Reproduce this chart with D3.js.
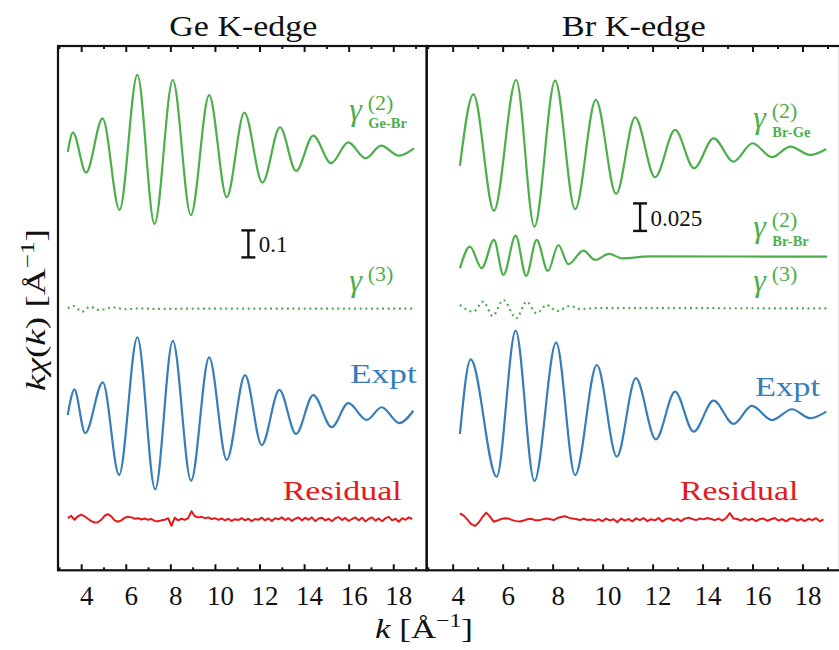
<!DOCTYPE html>
<html>
<head>
<meta charset="utf-8">
<script src="https://cdn.jsdelivr.net/npm/d3@7"></script>
<style>
  body { margin: 0; background: #fff; }
  svg { display: block; }
</style>
</head>
<body>
<svg id="chart" width="839" height="650"></svg>
<script>
// ---------- data: k (Å^-1) against kχ(k) ----------
const kTickLabels = ["4", "6", "8", "10", "12", "14", "16", "18"];
const kMajorTicks = [4, 6, 8, 10, 12, 14, 16, 18];
const kMinorTicks = [3, 5, 7, 9, 11, 13, 15, 17, 19];

// Ge K-edge
const geGammaGeBr = [
  [3.40, -0.009], [3.63, 0.062], [4.22, -0.086], [4.96, 0.115], [5.72, -0.224],
  [6.52, 0.276], [7.29, -0.276], [8.11, 0.257], [8.92, -0.243], [9.74, 0.201],
  [10.53, -0.177], [11.32, 0.136], [12.13, -0.123], [12.92, 0.082], [13.64, -0.080],
  [14.41, 0.051], [15.21, -0.051], [15.98, 0.026], [16.76, -0.033], [17.45, 0.014],
  [18.25, -0.023], [18.93, 0.004]
];
const geGamma3 = [
  [3.40, 0.0015], [3.66, 0.010], [4.03, -0.011], [4.40, 0.007], [4.82, -0.005],
  [5.43, 0.005], [5.97, -0.002], [6.60, 0.001], [7.50, -0.001], [9.00, 0.0005],
  [18.93, 0]
];
const geExpt = [
  [3.40, -0.004], [3.51, 0.046], [3.69, 0.091], [4.18, -0.071], [4.97, 0.117],
  [5.70, -0.226], [6.52, 0.284], [7.32, -0.279], [8.11, 0.271], [8.93, -0.247],
  [9.74, 0.210], [10.53, -0.170], [11.35, 0.144], [12.10, -0.115], [12.89, 0.089],
  [13.64, -0.074], [14.41, 0.070], [15.24, -0.049], [15.98, 0.040], [16.81, -0.022],
  [17.48, 0.025], [18.27, -0.034], [18.90, 0.012]
];
// residual sampled every 0.15 Å^-1 from k = 3.40
const geResidualStart = 3.40;
const geResidual = [
  0.004, 0.013, -0.002, 0.011, 0.017, 0.011, 0.002, -0.007, -0.012, -0.011,
  -0.002, 0.013, 0.019, 0.011, -0.004, -0.009, -0.004, 0.006, 0.009, 0.007,
  0.002, 0.004, -0.001, 0.003, -0.002, 0.001, -0.006, -0.007, -0.004, -0.002,
  0.004, -0.024, 0.006, -0.004, 0.002, -0.002, 0.004, 0.030, 0.011, 0.007,
  0.009, 0.004, 0.007, 0.001, 0.004, -0.002, 0.003, -0.004, 0.002, -0.006,
  0.000, -0.003, 0.004, -0.004, 0.002, -0.007, 0.001, -0.002, 0.006, -0.004,
  0.003, -0.006, 0.004, 0.000, 0.007, -0.003, 0.004, -0.006, 0.002, 0.007,
  -0.004, 0.006, -0.002, 0.007, -0.007, 0.003, 0.006, -0.004, 0.002, -0.007,
  0.004, 0.008, -0.003, 0.005, -0.006, 0.001, 0.007, -0.004, 0.006, -0.008,
  0.002, 0.007, -0.005, 0.003, -0.007, 0.004, 0.009, -0.004, 0.002, -0.009,
  0.004, -0.002, 0.007, 0.001
];

// Br K-edge
const brGammaBrGe = [
  [4.29, -0.0145], [4.83, 0.0506], [5.65, -0.0552], [6.54, 0.0636], [7.27, -0.0697],
  [8.10, 0.0630], [8.90, -0.0539], [9.73, 0.0455], [10.54, -0.0400], [11.30, 0.0297],
  [12.10, -0.0248], [12.90, 0.0182], [13.66, -0.0166], [14.44, 0.0106], [15.24, -0.0106],
  [16.00, 0.0061], [16.78, -0.0066], [17.51, 0.0030], [18.31, -0.0045], [18.95, 0.0009]
];
const brGammaBrBr = [
  [4.29, -0.0105], [4.69, 0.0091], [5.16, -0.0105], [5.65, 0.0152], [6.03, -0.0166],
  [6.52, 0.0191], [6.94, -0.0175], [7.36, 0.0152], [7.81, -0.0130], [8.23, 0.0106],
  [8.63, -0.0069], [9.23, 0.0055], [9.70, -0.0030], [10.26, 0.0025], [10.78, -0.0015],
  [11.90, 0.0002], [18.98, 0]
];
const brGamma3 = [
  [4.29, 0.0031], [4.82, -0.0030], [5.23, 0.0061], [5.60, -0.0069], [6.03, 0.0076],
  [6.54, -0.0090], [6.96, 0.0061], [7.36, -0.0045], [7.76, 0.0031], [8.17, -0.0024],
  [8.70, 0.0022], [9.10, -0.0005], [9.80, 0.0002], [18.95, 0]
];
const brExpt = [
  [4.29, -0.0182], [4.72, 0.0497], [5.76, -0.0570], [6.52, 0.0757], [7.27, -0.0609],
  [8.14, 0.0648], [8.90, -0.0555], [9.77, 0.0445], [10.57, -0.0388], [11.33, 0.0325],
  [12.13, -0.0230], [12.90, 0.0203], [13.64, -0.0161], [14.44, 0.0121], [15.24, -0.0091],
  [15.97, 0.0073], [16.78, -0.0055], [17.58, 0.0043], [18.31, -0.0039], [18.95, 0.0021]
];
const brResidualStart = 4.29;
const brResidual = [
  0.0057, 0.0036, 0.0000, -0.0041, -0.0058, -0.0027, 0.0023, 0.0063, 0.0027, -0.0019,
  -0.0009, 0.0005, 0.0012, 0.0009, -0.0005, -0.0014, -0.0018, -0.0009, 0.0003, 0.0007,
  -0.0005, -0.0007, 0.0002, 0.0009, 0.0005, -0.0005, 0.0014, 0.0023, 0.0030, 0.0018,
  0.0009, 0.0005, -0.0005, 0.0007, -0.0003, 0.0000, -0.0011, 0.0005, -0.0014, 0.0009,
  -0.0007, 0.0003, -0.0023, 0.0009, -0.0009, 0.0005, -0.0016, 0.0011, -0.0005, 0.0014,
  -0.0014, 0.0003, -0.0007, 0.0014, -0.0018, 0.0005, 0.0011, -0.0009, 0.0007, -0.0014,
  0.0009, 0.0018, 0.0005, -0.0005, 0.0009, 0.0002, 0.0014, 0.0005, -0.0005, 0.0009,
  -0.0009, 0.0014, 0.0059, 0.0009, 0.0005, -0.0009, 0.0011, -0.0005, 0.0007, -0.0014,
  0.0005, 0.0009, -0.0011, 0.0003, 0.0014, -0.0009, 0.0005, -0.0016, 0.0007, 0.0011,
  -0.0009, 0.0005, -0.0014, 0.0007, -0.0005, 0.0012, -0.0016, 0.0003
];
const residualStep = 0.15;

// ---------- layout ----------
const GREEN = "#4daf4a", BLUE = "#377eb8", RED = "#e41a1c";
const SERIF = "'Liberation Serif', 'DejaVu Serif', serif";
const plotTop = 46, plotBottom = 570.3;
const kDomain = [2.96, 19.5];

const sampled = (start, vals) => vals.map((v, i) => [start + i * residualStep, v]);

const panels = [
  {
    title: "Ge K-edge", titleWidth: 148,
    x0: 58, x1: 426.7,
    yDomain: [-0.579, 1.363],
    bar: { k: 11.5, from: 0.58, size: 0.1, text: "0.1" },
    series: [
      { data: geGammaGeBr, offset: 0.98, color: GREEN },
      { data: geGamma3, offset: 0.39, color: GREEN, dash: "2 3.6" },
      { data: geExpt, offset: 0, color: BLUE },
      { data: sampled(geResidualStart, geResidual), offset: -0.39, color: RED, linear: true }
    ],
    gammas: [
      { x: 349.3, y: 119.5, sup: "(2)", sub: "Ge-Br" },
      { x: 349.3, y: 291, sup: "(3)" }
    ],
    texts: [
      { text: "Expt", x: 350, y: 382.7, w: 66.7, color: BLUE },
      { text: "Residual", x: 282.7, y: 500, w: 119, color: RED }
    ]
  },
  {
    title: "Br K-edge", titleWidth: 144,
    x0: 426.7, x1: 840,
    yDomain: [-0.1421, 0.3345],
    bar: { k: 11.5, from: 0.1664, size: 0.025, text: "0.025" },
    series: [
      { data: brGammaBrGe, offset: 0.24, color: GREEN },
      { data: brGammaBrBr, offset: 0.143, color: GREEN },
      { data: brGamma3, offset: 0.096, color: GREEN, dash: "2 3.6" },
      { data: brExpt, offset: 0, color: BLUE },
      { data: sampled(brResidualStart, brResidual), offset: -0.096, color: RED, linear: true }
    ],
    gammas: [
      { x: 753.3, y: 128, sup: "(2)", sub: "Br-Ge" },
      { x: 753.3, y: 237, sup: "(2)", sub: "Br-Br" },
      { x: 753.3, y: 291, sup: "(3)" }
    ],
    texts: [
      { text: "Expt", x: 755, y: 396, w: 65, color: BLUE },
      { text: "Residual", x: 680, y: 500, w: 118.3, color: RED }
    ]
  }
];

const svg = d3.select("#chart");

panels.forEach(p => {
  const x = d3.scaleLinear().domain(kDomain).range([p.x0, p.x1]);
  const y = d3.scaleLinear().domain(p.yDomain).range([plotBottom, plotTop]);
  const g = svg.append("g");

  // curves
  p.series.forEach(s => {
    const line = d3.line()
      .x(d => x(d[0]))
      .y(d => y(d[1] + s.offset))
      .curve(s.linear ? d3.curveLinear : d3.curveMonotoneX);
    g.append("path")
      .datum(s.data)
      .attr("d", line)
      .attr("fill", "none")
      .attr("stroke", s.color)
      .attr("stroke-width", s.linear ? 2 : 2.2)
      .attr("stroke-linejoin", "round")
      .attr("stroke-dasharray", s.dash || null);
  });

  // scale bar
  const bx = x(p.bar.k), by0 = y(p.bar.from), by1 = y(p.bar.from + p.bar.size);
  const bar = g.append("g").attr("stroke", "#111").attr("stroke-width", 2.4);
  bar.append("line").attr("x1", bx).attr("x2", bx).attr("y1", by0).attr("y2", by1);
  bar.append("line").attr("x1", bx - 7).attr("x2", bx + 7).attr("y1", by0).attr("y2", by0);
  bar.append("line").attr("x1", bx - 7).attr("x2", bx + 7).attr("y1", by1).attr("y2", by1);
  g.append("text")
    .attr("x", bx + 10.5).attr("y", (by0 + by1) / 2 + 8.5)
    .attr("font-family", SERIF).attr("font-size", 23).attr("fill", "#111")
    .text(p.bar.text);

  // axes: ticks point inward on bottom and top edges
  const major = d3.axisBottom(x).tickValues(kMajorTicks).tickSizeInner(-6).tickSizeOuter(0)
    .tickFormat((d, i) => kTickLabels[i]);
  const minor = d3.axisBottom(x).tickValues(kMinorTicks).tickSizeInner(-3).tickSizeOuter(0)
    .tickFormat("");
  const ax = g.append("g").attr("transform", `translate(0,${plotBottom})`).call(major);
  g.append("g").attr("transform", `translate(0,${plotBottom})`).call(minor);
  g.append("g").attr("transform", `translate(0,${plotTop})`)
    .call(d3.axisTop(x).tickValues(kMajorTicks).tickSizeInner(-6).tickSizeOuter(0).tickFormat(""));
  g.append("g").attr("transform", `translate(0,${plotTop})`)
    .call(d3.axisTop(x).tickValues(kMinorTicks).tickSizeInner(-3).tickSizeOuter(0).tickFormat(""));
  g.selectAll(".domain").remove();
  g.selectAll(".tick line").attr("stroke", "#111").attr("stroke-width", 2);
  ax.selectAll(".tick text")
    .attr("x", 5).attr("y", 34.7).attr("dy", null)
    .attr("font-family", SERIF).attr("font-size", 27).attr("fill", "#111");

  // frame
  g.append("rect")
    .attr("x", p.x0).attr("y", plotTop)
    .attr("width", p.x1 - p.x0).attr("height", plotBottom - plotTop)
    .attr("fill", "none").attr("stroke", "#111").attr("stroke-width", 2.2);

  // title
  g.append("text")
    .attr("x", (p.x0 + Math.min(p.x1, 839)) / 2 + 1).attr("y", 36)
    .attr("text-anchor", "middle")
    .attr("font-family", SERIF).attr("font-size", 30).attr("fill", "#111")
    .attr("textLength", p.titleWidth).attr("lengthAdjust", "spacingAndGlyphs")
    .text(p.title);

  // series names
  p.texts.forEach(t => {
    g.append("text")
      .attr("x", t.x).attr("y", t.y)
      .attr("font-family", SERIF).attr("font-size", 28).attr("fill", t.color)
      .attr("textLength", t.w).attr("lengthAdjust", "spacingAndGlyphs")
      .text(t.text);
  });

  p.gammas.forEach(t => {
    const lg = g.append("g").attr("fill", GREEN).attr("font-family", SERIF);
    lg.append("text").attr("x", t.x).attr("y", t.y)
      .attr("font-size", 32).attr("font-style", "italic").text("γ");
    lg.append("text").attr("x", t.x + 18.5).attr("y", t.y - 10)
      .attr("font-size", 22).text(t.sup);
    if (t.sub) {
      lg.append("text").attr("x", t.x + 19).attr("y", t.y + 8.5)
        .attr("font-size", 14.5).attr("font-weight", "bold").text(t.sub);
    }
  });
});

// axis titles
const xt = svg.append("text")
  .attr("x", 375).attr("y", 638)
  .attr("font-family", SERIF).attr("font-size", 28).attr("fill", "#111")
  .attr("textLength", 98).attr("lengthAdjust", "spacingAndGlyphs");
xt.append("tspan").attr("font-style", "italic").text("k");
xt.append("tspan").text(" [Å");
xt.append("tspan").attr("dy", -11).attr("font-size", 19).text("−1");
xt.append("tspan").attr("dy", 11).text("]");

const yt = svg.append("text")
  .attr("transform", "translate(45,310) rotate(-90)")
  .attr("text-anchor", "middle")
  .attr("font-family", SERIF).attr("font-size", 28).attr("fill", "#111")
  .attr("textLength", 162).attr("lengthAdjust", "spacingAndGlyphs");
yt.append("tspan").attr("font-style", "italic").text("kχ");
yt.append("tspan").text("(");
yt.append("tspan").attr("font-style", "italic").text("k");
yt.append("tspan").text(") [Å");
yt.append("tspan").attr("dy", -11).attr("font-size", 19).text("−1");
yt.append("tspan").attr("dy", 11).text("]");
</script>
</body>
</html>
